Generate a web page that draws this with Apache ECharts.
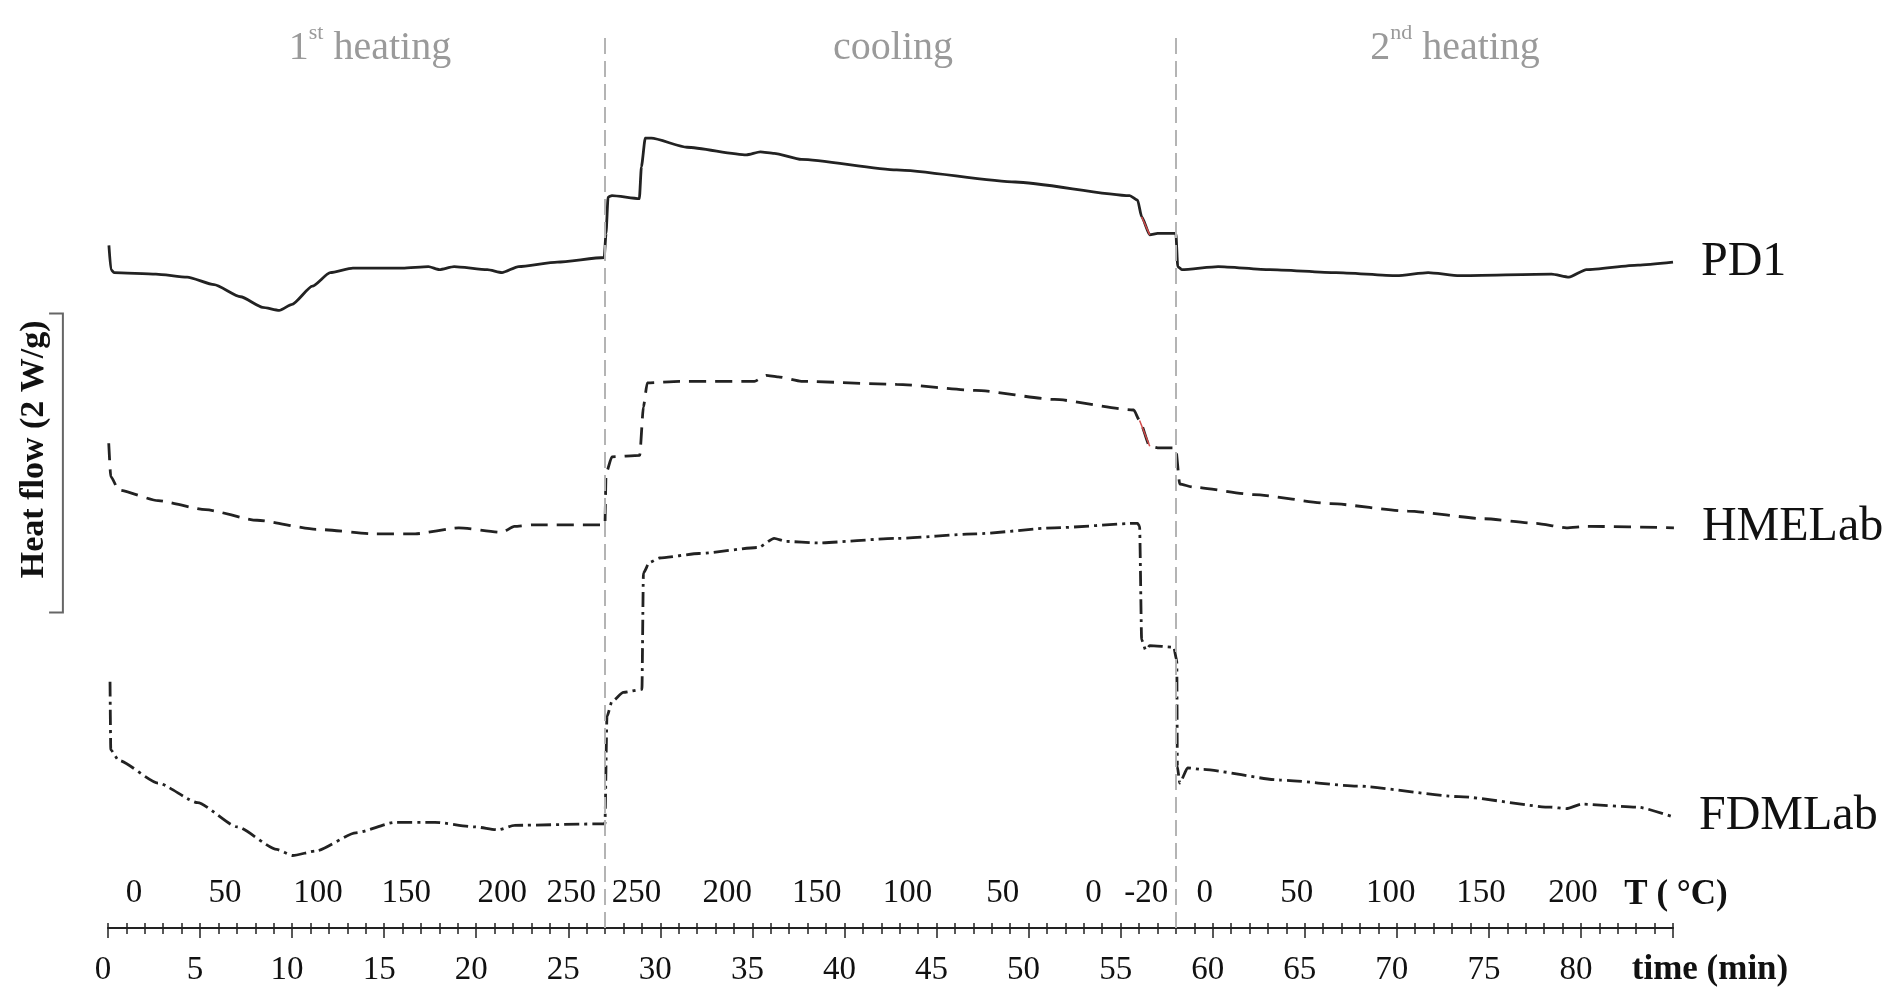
<!DOCTYPE html>
<html>
<head>
<meta charset="utf-8">
<script src="https://cdn.jsdelivr.net/npm/echarts@6/dist/echarts.min.js"></script>
<style>
  html, body { margin: 0; padding: 0; background: #fff; }
  #chart { width: 1902px; height: 997px; }
</style>
</head>
<body>
<div id="chart"></div>
<script>
// time (min), heat flow (W/g, offset per curve)
const pd1 = [
  [0.05, 4.52], [0.16, 4.36], [0.33, 4.34], [2.6, 4.33], [4.3, 4.31], [5.76, 4.26], [7.2, 4.18],
  [8.4, 4.11], [9.3, 4.09], [10.0, 4.13], [11.1, 4.25], [12.07, 4.34], [13.3, 4.37], [16.0, 4.37],
  [17.4, 4.38], [18.0, 4.36], [18.8, 4.38], [20.6, 4.36], [21.4, 4.34], [22.3, 4.38], [24.4, 4.41],
  [26.95, 4.44],
  [27.05, 4.60], [27.16, 4.84], [27.37, 4.85], [28.86, 4.83], [28.97, 5.04], [29.18, 5.23],
  [29.51, 5.23], [31.45, 5.17], [34.67, 5.12], [35.43, 5.14], [36.18, 5.13], [37.66, 5.09],
  [42.83, 5.02], [49.28, 4.94], [55.49, 4.85], [55.92, 4.82], [56.14, 4.71], [56.58, 4.59],
  [57.01, 4.60], [58.0, 4.60],
  [58.1, 4.38], [58.32, 4.36], [60.3, 4.38], [63.1, 4.36], [66.7, 4.34], [70.0, 4.32],
  [71.7, 4.34], [73.4, 4.32], [78.4, 4.33], [79.35, 4.31], [80.3, 4.36], [83.1, 4.39], [85.0, 4.41]
];
const hmeLab = [
  [0.04, 3.21], [0.15, 2.99], [0.58, 2.90], [2.72, 2.83], [5.30, 2.77], [8.10, 2.70], [11.3, 2.64],
  [14.54, 2.61], [16.68, 2.61], [19.05, 2.65], [21.41, 2.62], [22.07, 2.66], [23.13, 2.67],
  [26.99, 2.67],
  [27.05, 3.01], [27.37, 3.12], [28.88, 3.13], [29.08, 3.45], [29.29, 3.61], [31.03, 3.62],
  [35.11, 3.62], [35.75, 3.66], [36.39, 3.65], [37.66, 3.62], [42.83, 3.60], [47.12, 3.56],
  [51.41, 3.50], [55.71, 3.43], [56.03, 3.36], [56.58, 3.19], [57.01, 3.18], [57.99, 3.18],
  [58.21, 2.94], [58.91, 2.92], [62.23, 2.87], [66.41, 2.81], [70.6, 2.76], [74.76, 2.71],
  [77.54, 2.68], [79.21, 2.65], [80.33, 2.66], [85.05, 2.65]
];
const fdmLab = [
  [0.11, 1.63], [0.15, 1.18], [0.58, 1.11], [2.72, 0.96], [4.87, 0.83], [7.01, 0.67], [9.17, 0.52],
  [10.03, 0.48], [11.3, 0.51], [13.46, 0.63], [15.6, 0.70], [17.76, 0.70], [19.89, 0.67],
  [21.2, 0.65], [22.07, 0.68], [26.99, 0.69],
  [27.1, 1.40], [27.37, 1.50], [27.99, 1.56], [29.0, 1.58], [29.08, 2.35], [29.4, 2.42],
  [29.95, 2.45], [32.1, 2.48], [35.33, 2.52], [36.18, 2.58], [36.82, 2.56], [38.53, 2.55],
  [42.83, 2.58], [47.12, 2.61], [51.41, 2.65], [55.92, 2.68], [56.03, 2.66], [56.14, 1.91],
  [56.36, 1.84], [56.58, 1.87], [57.88, 1.86], [58.05, 1.77],
  [58.08, 1.07], [58.21, 0.96], [58.64, 1.06], [59.46, 1.05], [63.64, 0.98], [67.82, 0.94],
  [73.37, 0.87], [78.37, 0.80], [79.21, 0.79], [80.05, 0.82], [83.1, 0.80], [84.89, 0.74]
];
// short red crystallisation marks in the cooling step
const pd1Red = [[56.14, 4.71], [56.58, 4.59]];
const hmeRed = [[56.03, 3.36], [56.58, 3.19]];

// phase boundaries (min)
const phaseEnds = [27, 58];
const phaseTitles = ['{b|1}{s|st}{b| heating}', '{b|cooling}', '{b|2}{s|nd}{b| heating}'];
const phaseTitleX = [365, 888, 1450];

// temperature tick labels, placed along the time axis
const tempPos = [1.41, 6.36, 11.41, 16.2, 21.41, 25.16, 28.7, 33.64, 38.5, 43.42, 48.59, 53.53,
  56.39, 59.57, 64.57, 69.67, 74.57, 79.57];
const tempLabels = ['0', '50', '100', '150', '200', '250', '250', '200', '150', '100', '50', '0',
  '-20', '0', '50', '100', '150', '200'];

// 2 W/g scale bar (time, heat flow) and its caption anchor
const scaleBar = [[-3.2, 4.07], [-2.45, 4.07], [-2.45, 2.09], [-3.2, 2.09]];
const scaleCaptionAt = [-4.0, 3.17];

const font = 'Liberation Serif';
const chart = echarts.init(document.getElementById('chart'));

const titleRich = {
  b: { fontFamily: font, fontSize: 40, fontWeight: 'normal', color: '#9a9a9a', lineHeight: 46, verticalAlign: 'bottom' },
  s: { fontFamily: font, fontSize: 22, fontWeight: 'normal', color: '#9a9a9a', lineHeight: 46, verticalAlign: 'top' }
};

const endLabel = {
  show: true,
  formatter: '{a}',
  distance: 28,
  fontFamily: font,
  fontSize: 48,
  color: '#111'
};

const nameStyle = {
  fontFamily: font, fontSize: 35, fontWeight: 'bold', color: '#111',
  align: 'center', verticalAlign: 'middle'
};

// axis that only carries a name, shifted up/down from the time axis line
const nameAxis = (name, gap, offset) => ({
  type: 'value', min: 0, max: 85, position: 'bottom', offset: offset,
  name: name, nameLocation: 'end', nameGap: gap, nameTextStyle: nameStyle,
  axisLine: { show: false }, axisTick: { show: false }, axisLabel: { show: false },
  splitLine: { show: false }
});

const curve = (name, data, type) => ({
  name: name,
  type: 'line',
  data: data,
  showSymbol: false,
  smooth: 0.2,
  smoothMonotone: 'x',
  lineStyle: { color: '#222', width: 2.8, type: type },
  endLabel: endLabel
});

const option = {
  animation: false,
  backgroundColor: '#fff',
  title: phaseTitles.map((t, i) => ({
    text: t,
    left: phaseTitleX[i],
    top: 17,
    textAlign: 'center',
    textStyle: { fontWeight: 'normal', rich: titleRich }
  })),
  grid: { left: 108, right: 229, top: 34, bottom: 69, containLabel: false, outerBoundsMode: 'none' },
  xAxis: [
    {
      type: 'value',
      min: 0,
      max: 85,
      interval: 5,
      position: 'bottom',
      axisLine: { lineStyle: { color: '#222', width: 2 } },
      axisTick: { length: 10, lineStyle: { color: '#222', width: 1.5 } },
      minorTick: { show: true, splitNumber: 5, length: 6, lineStyle: { color: '#222', width: 1.5 } },
      axisLabel: {
        showMaxLabel: false,
        margin: 26,
        padding: [0, 10, 0, 0],
        fontFamily: font, fontSize: 33, color: '#111'
      },
      splitLine: { show: false }
    },
    {
      type: 'value',
      min: 0,
      max: 85,
      position: 'bottom',
      axisLine: { show: false },
      axisTick: { show: false },
      axisLabel: {
        inside: true,
        margin: 18,
        customValues: tempPos,
        formatter: v => tempLabels[tempPos.indexOf(v)],
        fontFamily: font, fontSize: 33, color: '#111'
      },
      splitLine: { show: false }
    },
    {
      type: 'value',
      min: 0,
      max: 85,
      interval: 1,
      position: 'bottom',
      axisLine: { show: false },
      axisTick: { inside: true, length: 5, lineStyle: { color: '#222', width: 1.5 } },
      axisLabel: { show: false },
      splitLine: { show: false }
    },
    nameAxis('time (min)', 37, 42),
    nameAxis('T ( °C)', 3, -33)
  ],
  yAxis: { type: 'value', min: 0, max: 5.92, show: false },
  series: [
    Object.assign(curve('PD1', pd1, 'solid'), {
      markLine: {
        silent: true,
        symbol: 'none',
        label: { show: false },
        lineStyle: { color: '#b4b4b4', width: 2, type: [16, 7] },
        data: phaseEnds.map(x => ({ xAxis: x }))
      }
    }),
    curve('HMELab', hmeLab, [17, 9]),
    curve('FDMLab', fdmLab, [15, 5, 3, 5]),
    {
      name: 'PD1 Tc',
      type: 'line',
      data: pd1Red,
      showSymbol: false,
      silent: true,
      lineStyle: { color: '#d04a4a', width: 1.5 }
    },
    {
      name: 'HMELab Tc',
      type: 'line',
      data: hmeRed,
      showSymbol: false,
      silent: true,
      lineStyle: { color: '#d04a4a', width: 1.5 }
    }
  ]
};

chart.setOption(option);

// scale bar and caption sit left of the plot; place them through the chart's own scales
const toPx = p => chart.convertToPixel({ gridIndex: 0 }, p);
const cap = toPx(scaleCaptionAt);
chart.setOption({
  graphic: [
    {
      type: 'polyline',
      silent: true,
      shape: { points: scaleBar.map(toPx) },
      style: { stroke: '#666', lineWidth: 2, fill: null }
    },
    {
      type: 'text',
      x: cap[0],
      y: cap[1],
      rotation: Math.PI / 2,
      silent: true,
      style: {
        text: 'Heat flow (2 W/g)',
        fontFamily: font,
        fontSize: 34,
        fontWeight: 'bold',
        fill: '#111',
        align: 'center',
        verticalAlign: 'middle'
      }
    }
  ]
});
window.addEventListener('resize', () => chart.resize());
</script>
</body>
</html>
